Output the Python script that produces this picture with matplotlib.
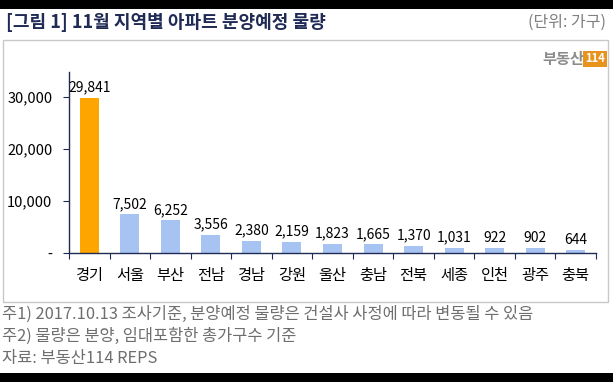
import matplotlib.pyplot as plt
from matplotlib.patches import Rectangle
from matplotlib.ticker import FuncFormatter

plt.rcParams['font.family'] = ['Noto Sans CJK KR', 'DejaVu Sans']

regions = ['경기', '서울', '부산', '전남', '경남', '강원', '울산', '충남', '전북', '세종', '인천', '광주', '충북']
units = [29841, 7502, 6252, 3556, 2380, 2159, 1823, 1665, 1370, 1031, 922, 902, 644]
yticks = [0, 10000, 20000, 30000]

title = '[그림 1] 11월 지역별 아파트 분양예정 물량'
unit_note = '(단위: 가구)'
notes = ['주1) 2017.10.13 조사기준, 분양예정 물량은 건설사 사정에 따라 변동될 수 있음',
         '주2) 물량은 분양, 임대포함한 총가구수 기준',
         '자료: 부동산114 REPS']

orange = '#FFA500'
blue = '#A7C3F2'
navy = '#1F2A55'

fig = plt.figure(figsize=(6.13, 3.82), dpi=100)
fig.patch.set_facecolor('white')

# black bands top and bottom
fig.add_artist(Rectangle((0, 1 - 9 / 382), 1, 9 / 382, transform=fig.transFigure,
                         facecolor='black', edgecolor='none'))
fig.add_artist(Rectangle((0, 0), 1, 9 / 382, transform=fig.transFigure,
                         facecolor='black', edgecolor='none'))
# chart frame
fig.add_artist(Rectangle((3 / 613, 80 / 382), 605 / 613, 262 / 382, transform=fig.transFigure,
                         facecolor='none', edgecolor='#C8C8C8', lw=1))

fig.text(6 / 613, 1 - 22 / 382, title, fontsize=13, fontweight='bold',
         color=navy, va='center', ha='left')
fig.text(606 / 613, 1 - 22 / 382, unit_note, fontsize=11.5, color='#7F7F7F',
         va='center', ha='right')

# logo
fig.text(584 / 613, 1 - 59 / 382, '부동산', fontsize=11, fontweight='bold',
         color='#8C8C8C', va='center', ha='right')
fig.text(595 / 613, 1 - 59 / 382, '114', fontsize=8, fontweight='bold', color='white',
         va='center', ha='center',
         bbox=dict(boxstyle='square,pad=0.15', facecolor='#E8931E', edgecolor='none'))

for i, n in enumerate(notes):
    fig.text(2 / 613, 1 - (314 + 22 * i) / 382, n, fontsize=11.8, color='#6E6E6E',
             va='center', ha='left')

ax = fig.add_axes([69 / 613, 129 / 382, 527 / 613, 181 / 382])
x = range(len(regions))
colors = [orange] + [blue] * (len(regions) - 1)
ax.bar(x, units, width=0.47, color=colors)

for xi, v in zip(x, units):
    ax.text(xi, v + 600, f'{v:,}', ha='center', va='bottom', fontsize=10, color='black')

ax.set_xlim(-0.5, len(regions) - 0.5)
ax.set_ylim(0, 34800)
ax.set_yticks(yticks)
ax.yaxis.set_major_formatter(FuncFormatter(lambda v, p: '-' if v == 0 else f'{int(v):,}'))
ax.set_xticks([i - 0.5 for i in range(len(regions) + 1)], minor=False)
ax.set_xticklabels([])
ax.set_xticks(list(x), minor=True)
ax.set_xticklabels(regions, minor=True, fontsize=11)
ax.tick_params(axis='x', which='major', length=4, direction='out', color=navy)
ax.tick_params(axis='x', which='minor', length=0, pad=10)
ax.tick_params(axis='y', length=4, direction='out', color=navy, labelsize=10.5, pad=8)

for s in ['top', 'right']:
    ax.spines[s].set_visible(False)
for s in ['left', 'bottom']:
    ax.spines[s].set_color(navy)
    ax.spines[s].set_linewidth(1)

fig.savefig('out.png', dpi=100, facecolor='white')
